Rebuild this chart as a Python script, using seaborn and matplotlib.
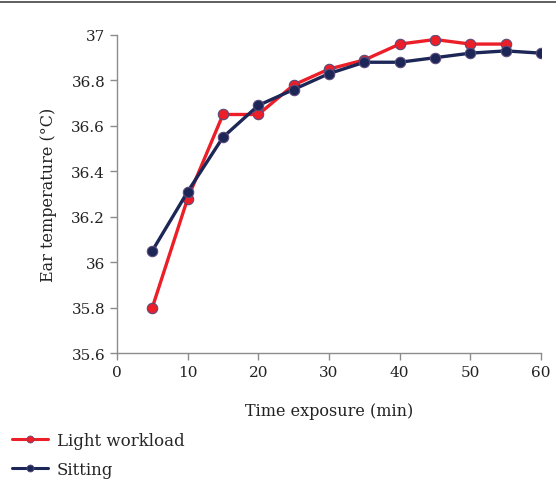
import numpy as np
import pandas as pd
import matplotlib
matplotlib.use('Agg')
import matplotlib.pyplot as plt
from matplotlib.lines import Line2D
from matplotlib.ticker import FuncFormatter
import seaborn as sns

# ==================== Data ====================
time_light = [5, 10, 15, 20, 25, 30, 35, 40, 45, 50, 55]
temp_light = [35.80, 36.28, 36.65, 36.65, 36.78, 36.85, 36.89, 36.96, 36.98, 36.96, 36.96]

time_sit = [5, 10, 15, 20, 25, 30, 35, 40, 45, 50, 55, 60]
temp_sit = [36.05, 36.31, 36.55, 36.69, 36.76, 36.83, 36.88, 36.88, 36.90, 36.92, 36.93, 36.92]

series_names = ['Light workload', 'Sitting']
COLORS = {'Light workload': '#ec1f28', 'Sitting': '#1c2657'}

df = pd.concat([
    pd.DataFrame({'Time': time_light, 'Temp': temp_light, 'Group': series_names[0]}),
    pd.DataFrame({'Time': time_sit, 'Temp': temp_sit, 'Group': series_names[1]}),
])

# ==================== Style ====================
sns.set_style('white')
plt.rcParams['font.family'] = ['DejaVu Serif']

fig = plt.figure(figsize=(5.56, 4.85), dpi=100)
ax = fig.add_axes([0.2104, 0.2701, 0.7626, 0.6557])

sns.lineplot(data=df, x='Time', y='Temp', hue='Group', hue_order=series_names,
             palette=COLORS, marker='o', markersize=7.5, linewidth=2.4,
             markeredgecolor='#5a4a7a', markeredgewidth=0.8, legend=False, ax=ax)

ax.set_xlim(0, 60)
ax.set_ylim(35.6, 37)
ax.set_xticks(np.arange(0, 61, 10))
ax.set_yticks(np.arange(35.6, 37.01, 0.2))
ax.yaxis.set_major_formatter(FuncFormatter(lambda v, p: f'{v:.1f}'.rstrip('0').rstrip('.')))

for side in ['top', 'right']:
    ax.spines[side].set_visible(False)
for side in ['left', 'bottom']:
    ax.spines[side].set_color('#8c8c8c')
    ax.spines[side].set_linewidth(1.0)
ax.tick_params(axis='both', direction='out', length=5, width=1.0, color='#8c8c8c',
               labelsize=11, labelcolor='#222222', left=True, bottom=True)

ax.set_xlabel('Time exposure (min)', fontsize=11.5, color='#222222', labelpad=17)
ax.set_ylabel('Ear temperature (°C)', fontsize=11.5, color='#222222', labelpad=10)

# Legend below the plot
handles = [Line2D([], [], color=COLORS[n], marker='o', markersize=5, linewidth=2.2,
                  markeredgecolor='#5a4a7a', markeredgewidth=0.6) for n in series_names]
fig.legend(handles, series_names, loc='lower left', bbox_to_anchor=(0.0, -0.012),
           frameon=False, fontsize=12, handlelength=2.2, handletextpad=0.5,
           labelspacing=0.75, borderaxespad=0.3)

# Rule across the top
fig.add_artist(Line2D([0, 1], [0.994, 0.994], transform=fig.transFigure,
                      color='#444444', linewidth=1.2))

fig.savefig('out.png', dpi=100)
